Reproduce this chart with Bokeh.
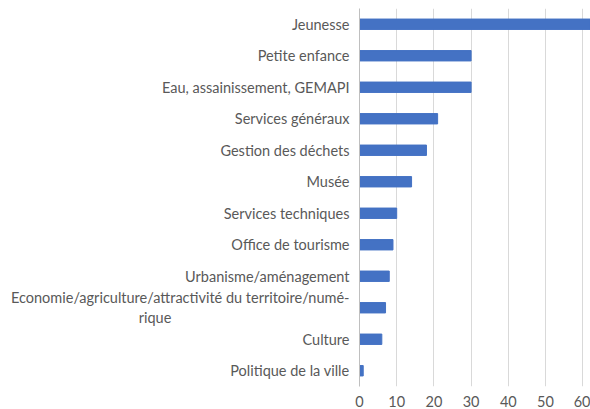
from bokeh.plotting import figure
from bokeh.models import Range1d, FixedTicker, FactorRange
from bokeh.embed import file_html
from bokeh.resources import INLINE

categories = [
    "Jeunesse",
    "Petite enfance",
    "Eau, assainissement, GEMAPI",
    "Services généraux",
    "Gestion des déchets",
    "Musée",
    "Services techniques",
    "Office de tourisme",
    "Urbanisme/aménagement",
    "Economie/agriculture/attractivité du territoire/numé-\nrique" + "\u00a0" * 48,
    "Culture",
    "Politique de la ville",
]
values = [62, 30, 30, 21, 18, 14, 10, 9, 8, 7, 6, 1]
x_ticks = [0, 10, 20, 30, 40, 50, 60]

cats_rev = categories[::-1]
vals_rev = values[::-1]

p = figure(width=590, height=409, output_backend="svg", toolbar_location=None,
           y_range=FactorRange(*cats_rev), x_range=Range1d(0, 62.1),
           min_border_left=359, min_border_right=0, min_border_top=8, min_border_bottom=20)
p.hbar(y=cats_rev, right=vals_rev, left=0, height=0.33, color="#4472C4")

p.outline_line_color = None
p.ygrid.grid_line_color = None
p.xgrid.grid_line_color = "#d9d9d9"
p.xgrid.ticker = FixedTicker(ticks=x_ticks)
p.xaxis.ticker = FixedTicker(ticks=x_ticks)

for ax in (p.xaxis, p.yaxis):
    ax.major_tick_line_color = None
    ax.minor_tick_line_color = None
    ax.major_label_text_color = "#595959"
    ax.major_label_text_font = "Lato"
    ax.major_label_text_font_size = "14.5px"
p.xaxis.axis_line_color = None
p.yaxis.axis_line_color = "#bfbfbf"
p.yaxis.major_label_standoff = 4
p.xaxis.major_label_standoff = 3

open("out.html", "w").write(file_html(p, INLINE))
